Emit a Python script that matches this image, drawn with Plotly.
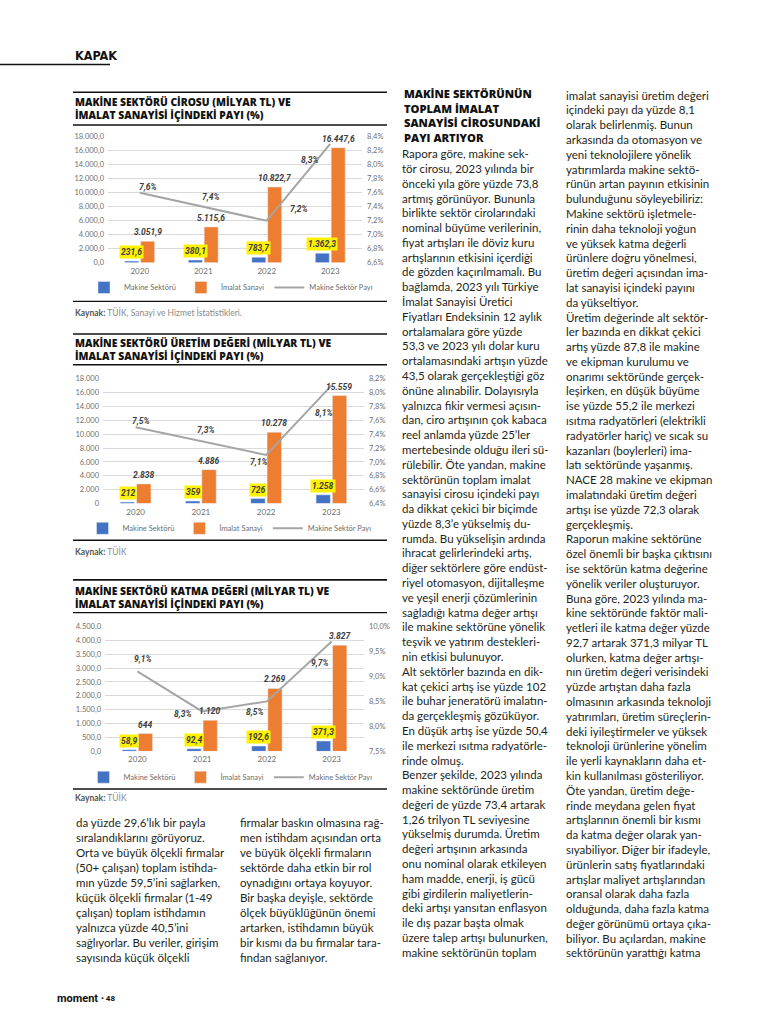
import plotly.graph_objects as go

W, H = 777, 1024

# ---------------- DATA ----------------
years = ['2020', '2021', '2022', '2023']

ciro_makine = [231.6, 380.1, 783.7, 1362.3]
ciro_imalat = [3051.9, 5115.6, 10822.7, 16447.6]
ciro_pay = [7.6, 7.4, 7.2, 8.3]

uretim_makine = [212, 359, 726, 1258]
uretim_imalat = [2838, 4886, 10278, 15559]
uretim_pay = [7.5, 7.3, 7.1, 8.1]

katma_makine = [58.9, 92.4, 192.6, 371.3]
katma_imalat = [644, 1120, 2269, 3827]
katma_pay = [9.1, 8.3, 8.5, 9.7]

series_names = ['Makine Sektörü', 'İmalat Sanayi', 'Makine Sektör Payı']

# ---------------- TEXT ----------------
col2_heading = ['MAKİNE SEKTÖRÜNÜN', 'TOPLAM İMALAT', 'SANAYİSİ CİROSUNDAKİ', 'PAYI ARTIYOR']
col2_body = [
    'Rapora göre, makine sek-', 'tör cirosu, 2023 yılında bir', 'önceki yıla göre yüzde 73,8',
    'artmış görünüyor. Bununla', 'birlikte sektör cirolarındaki', 'nominal büyüme verilerinin,',
    'fiyat artışları ile döviz kuru', 'artışlarının etkisini içerdiği', 'de gözden kaçırılmamalı. Bu',
    'bağlamda, 2023 yılı Türkiye', 'İmalat Sanayisi Üretici', 'Fiyatları Endeksinin 12 aylık',
    'ortalamalara göre yüzde', '53,3 ve 2023 yılı dolar kuru', 'ortalamasındaki artışın yüzde',
    '43,5 olarak gerçekleştiği göz', 'önüne alınabilir. Dolayısıyla', 'yalnızca fikir vermesi açısın-',
    'dan, ciro artışının çok kabaca', 'reel anlamda yüzde 25’ler', 'mertebesinde olduğu ileri sü-',
    'rülebilir. Öte yandan, makine', 'sektörünün toplam imalat', 'sanayisi cirosu içindeki payı',
    'da dikkat çekici bir biçimde', 'yüzde 8,3’e yükselmiş du-', 'rumda. Bu yükselişin ardında',
    'ihracat gelirlerindeki artış,', 'diğer sektörlere göre endüst-', 'riyel otomasyon, dijitalleşme',
    've yeşil enerji çözümlerinin', 'sağladığı katma değer artışı', 'ile makine sektörüne yönelik',
    'teşvik ve yatırım destekleri-', 'nin etkisi bulunuyor.', 'Alt sektörler bazında en dik-',
    'kat çekici artış ise yüzde 102', 'ile buhar jeneratörü imalatın-', 'da gerçekleşmiş gözüküyor.',
    'En düşük artış ise yüzde 50,4', 'ile merkezi ısıtma radyatörle-', 'rinde olmuş.',
    'Benzer şekilde, 2023 yılında', 'makine sektöründe üretim', 'değeri de yüzde 73,4 artarak',
    '1,26 trilyon TL seviyesine', 'yükselmiş durumda. Üretim', 'değeri artışının arkasında',
    'onu nominal olarak etkileyen', 'ham madde, enerji, iş gücü', 'gibi girdilerin maliyetlerin-',
    'deki artışı yansıtan enflasyon', 'ile dış pazar başta olmak', 'üzere talep artışı bulunurken,',
    'makine sektörünün toplam',
]
col3_body = [
    'imalat sanayisi üretim değeri', 'içindeki payı da yüzde 8,1', 'olarak belirlenmiş. Bunun',
    'arkasında da otomasyon ve', 'yeni teknolojilere yönelik', 'yatırımlarda makine sektö-',
    'rünün artan payının etkisinin', 'bulunduğunu söyleyebiliriz:', 'Makine sektörü işletmele-',
    'rinin daha teknoloji yoğun', 've yüksek katma değerli', 'ürünlere doğru yönelmesi,',
    'üretim değeri açısından ima-', 'lat sanayisi içindeki payını', 'da yükseltiyor.',
    'Üretim değerinde alt sektör-', 'ler bazında en dikkat çekici', 'artış yüzde 87,8 ile makine',
    've ekipman kurulumu ve', 'onarımı sektöründe gerçek-', 'leşirken, en düşük büyüme',
    'ise yüzde 55,2 ile merkezi', 'ısıtma radyatörleri (elektrikli', 'radyatörler hariç) ve sıcak su',
    'kazanları (boylerleri) ima-', 'latı sektöründe yaşanmış.', 'NACE 28 makine ve ekipman',
    'imalatındaki üretim değeri', 'artışı ise yüzde 72,3 olarak', 'gerçekleşmiş.',
    'Raporun makine sektörüne', 'özel önemli bir başka çıktısını', 'ise sektörün katma değerine',
    'yönelik veriler oluşturuyor.', 'Buna göre, 2023 yılında ma-', 'kine sektöründe faktör mali-',
    'yetleri ile katma değer yüzde', '92,7 artarak 371,3 milyar TL', 'olurken, katma değer artışı-',
    'nın üretim değeri verisindeki', 'yüzde artıştan daha fazla', 'olmasının arkasında teknoloji',
    'yatırımları, üretim süreçlerin-', 'deki iyileştirmeler ve yüksek', 'teknoloji ürünlerine yönelim',
    'ile yerli kaynakların daha et-', 'kin kullanılması gösteriliyor.', 'Öte yandan, üretim değe-',
    'rinde meydana gelen fiyat', 'artışlarının önemli bir kısmı', 'da katma değer olarak yan-',
    'sıyabiliyor. Diğer bir ifadeyle,', 'ürünlerin satış fiyatlarındaki', 'artışlar maliyet artışlarından',
    'oransal olarak daha fazla', 'olduğunda, daha fazla katma', 'değer görünümü ortaya çıka-',
    'biliyor. Bu açılardan, makine', 'sektörünün yarattığı katma',
]
colA_body = [
    'da yüzde 29,6’lık bir payla', 'sıralandıklarını görüyoruz.', 'Orta ve büyük ölçekli firmalar',
    '(50+ çalışan) toplam istihda-', 'mın yüzde 59,5’ini sağlarken,', 'küçük ölçekli firmalar (1-49',
    'çalışan) toplam istihdamın', 'yalnızca yüzde 40,5’ini', 'sağlıyorlar. Bu veriler, girişim',
    'sayısında küçük ölçekli',
]
colB_body = [
    'firmalar baskın olmasına rağ-', 'men istihdam açısından orta', 've büyük ölçekli firmaların',
    'sektörde daha etkin bir rol', 'oynadığını ortaya koyuyor.', 'Bir başka deyişle, sektörde',
    'ölçek büyüklüğünün önemi', 'artarken, istihdamın büyük', 'bir kısmı da bu firmalar tara-',
    'fından sağlanıyor.',
]

# ---------------- STYLE ----------------
BLUE = '#4472C4'
ORANGE = '#ED7D31'
GRAY = '#A5A5A5'
TXT = '#231F20'
AX = '#6E6E6E'
BODY_FONT = 'Lato'
HEAD_FONT = 'Open Sans'


def X(px):
    return px / W


def Y(py):
    return 1 - py / H


def tr(v, dec):
    s = f'{v:,.{dec}f}'
    return s.replace(',', '#').replace('.', ',').replace('#', '.')


charts = [
    dict(makine=ciro_makine, imalat=ciro_imalat, pay=ciro_pay,
         title=['MAKİNE SEKTÖRÜ CİROSU (MİLYAR TL) VE', 'İMALAT SANAYİSİ İÇİNDEKİ PAYI (%)'],
         rule_top=89, title_y=105.5, rule_mid=122, px_x=[108, 362], px_y=[134, 261],
         legend_y=286, rule_bot=300, kaynak_y=311,
         kaynak='TÜİK, Sanayi ve Hizmet İstatistikleri.',
         lrange=[0, 18000], ldtick=2000, lfmt=',.1f', rrange=[6.6, 8.4], rdtick=0.2,
         mdec=1, idec=1,
         pay_shift=[(8, 6), (8, 10), (32, 12), (-20, -16)]),
    dict(makine=uretim_makine, imalat=uretim_imalat, pay=uretim_pay,
         title=['MAKİNE SEKTÖRÜ ÜRETİM DEĞERİ (MİLYAR TL) VE', 'İMALAT SANAYİSİ İÇİNDEKİ PAYI (%)'],
         rule_top=333, title_y=348.5, rule_mid=364, px_x=[103, 364], px_y=[378, 504],
         legend_y=529, rule_bot=541, kaynak_y=552, kaynak='TÜİK',
         lrange=[0, 18000], ldtick=2000, lfmt=',d', rrange=[6.4, 8.2], rdtick=0.2,
         mdec=0, idec=0,
         pay_shift=[(5, 6), (5, 11), (-7, -7), (-7, -27)]),
    dict(makine=katma_makine, imalat=katma_imalat, pay=katma_pay,
         title=['MAKİNE SEKTÖRÜ KATMA DEĞERİ (MİLYAR TL) VE', 'İMALAT SANAYİSİ İÇİNDEKİ PAYI (%)'],
         rule_top=581, title_y=598.5, rule_mid=614, px_x=[105, 364], px_y=[628, 754],
         legend_y=780, rule_bot=792, kaynak_y=801, kaynak='TÜİK',
         lrange=[0, 4500], ldtick=500, lfmt=',.1f', rrange=[7.5, 10.0], rdtick=0.5,
         mdec=1, idec=0,
         pay_shift=[(6, 12), (-19, -3), (-12, -11), (-12, -22)]),
]

fig = go.Figure()
layout = dict(
    width=W, height=H, margin=dict(l=0, r=0, t=0, b=0),
    paper_bgcolor='white', plot_bgcolor='white',
    separators=',.', barmode='group', bargap=0.5, bargroupgap=0.12,
    font=dict(family=BODY_FONT, color=TXT),
)
annotations = []
shapes = []


def ann(text, x, y, size, color=TXT, family=BODY_FONT, weight='normal', xanchor='left',
        yanchor='middle', style='normal', align='left'):
    annotations.append(dict(text=text, x=X(x), y=Y(y), xref='paper', yref='paper',
                            xanchor=xanchor, yanchor=yanchor, showarrow=False, align=align,
                            font=dict(size=size, color=color, family=family, weight=weight,
                                      style=style)))


def rule(x0, x1, y, w=1.4, color='#111111'):
    shapes.append(dict(type='line', xref='paper', yref='paper', x0=X(x0), x1=X(x1),
                       y0=Y(y), y1=Y(y), line=dict(color=color, width=w)))


LBL = dict(size=8.5, color='#404040', family='Roboto', weight='bold', style='italic')

for i, c in enumerate(charts):
    n = i + 1
    xa = 'x' if n == 1 else f'x{n}'
    ya_l = 'y' if n == 1 else f'y{2 * n - 1}'
    ya_r = f'y{2 * n}'
    leg = 'legend' if n == 1 else f'legend{n}'
    xkey = 'xaxis' if n == 1 else f'xaxis{n}'
    ylkey = 'yaxis' if n == 1 else f'yaxis{2 * n - 1}'
    yrkey = f'yaxis{2 * n}'

    fig.add_trace(go.Bar(x=years, y=c['makine'], name=series_names[0], marker_color=BLUE,
                         xaxis=xa, yaxis=ya_l, legend=leg, hoverinfo='skip'))
    fig.add_trace(go.Bar(x=years, y=c['imalat'], name=series_names[1], marker_color=ORANGE,
                         xaxis=xa, yaxis=ya_l, legend=leg, hoverinfo='skip'))
    fig.add_trace(go.Scatter(x=years, y=c['pay'], name=series_names[2], mode='lines',
                             line=dict(color=GRAY, width=2), xaxis=xa, yaxis=ya_r,
                             legend=leg, hoverinfo='skip'))

    dom_x = [X(c['px_x'][0]), X(c['px_x'][1])]
    dom_y = [Y(c['px_y'][1]), Y(c['px_y'][0])]
    layout[xkey] = dict(domain=dom_x, anchor=ya_l, type='category', categoryorder='array',
                        categoryarray=years, range=[-0.5, len(years) - 0.5], autorange=False,
                        showgrid=False, showline=False, ticks='',
                        tickfont=dict(size=8, color=AX), ticklabelstandoff=2)
    layout[ylkey] = dict(domain=dom_y, anchor=xa, range=c['lrange'], autorange=False,
                         dtick=c['ldtick'], tickformat=c['lfmt'], showgrid=True,
                         gridcolor='#D9D9D9', gridwidth=0.8, zeroline=False, showline=False,
                         ticks='', tickfont=dict(size=7.5, color=AX), ticklabelstandoff=3)
    layout[yrkey] = dict(domain=dom_y, anchor=xa, overlaying=ya_l, side='right',
                         range=c['rrange'], autorange=False, dtick=c['rdtick'],
                         tickformat='.1f', ticksuffix='%', showgrid=False, zeroline=False,
                         showline=False, ticks='', tickfont=dict(size=7.5, color=AX),
                         ticklabelstandoff=4)
    layout[leg] = dict(orientation='h', x=(dom_x[0] + dom_x[1]) / 2 - X(4), xanchor='center',
                       y=Y(c['legend_y']), yanchor='middle', xref='paper', yref='paper',
                       font=dict(size=7.5, color=AX), itemwidth=30, tracegroupgap=0,
                       bgcolor='rgba(0,0,0,0)', traceorder='normal')

    # value labels (x given as category index)
    for k in range(len(years)):
        annotations.append(dict(x=k, y=c['makine'][k], xref=xa, yref=ya_l, xshift=-8, yshift=2,
                                text=tr(c['makine'][k], c['mdec']), showarrow=False,
                                yanchor='bottom', bgcolor='#FFF200', borderpad=1, font=LBL))
        annotations.append(dict(x=k, y=c['imalat'][k], xref=xa, yref=ya_l, xshift=8, yshift=2,
                                text=tr(c['imalat'][k], c['idec']), showarrow=False,
                                yanchor='bottom', font=LBL))
        dx, dy = c['pay_shift'][k]
        annotations.append(dict(x=k, y=c['pay'][k], xref=xa, yref=ya_r, xshift=dx, yshift=dy,
                                text=tr(c['pay'][k], 1) + '%', showarrow=False, font=LBL))

    # frame rules, titles, source
    rule(73, 387, c['rule_top'], 1.6)
    ann('<br>'.join(c['title']), 73, c['title_y'], 10.3, color='#111111', family=HEAD_FONT,
        weight=800)
    rule(73, 387, c['rule_mid'], 1.4)
    rule(73, 387, c['rule_bot'], 1.4)
    ann('<b>Kaynak:</b> <span style="color:#8a8a8a">' + c['kaynak'] + '</span>', 73,
        c['kaynak_y'], 8.5, color='#555555')

# header / footer
ann('KAPAK', 73, 52, 12.5, color='#111111', family='DejaVu Sans Condensed', weight='bold')
rule(0, 110, 61, 1.4)
ann('<b>moment</b>', 55, 1003, 11, color='#111111', family='Roboto')
ann('• 48', 99, 1003, 8, color='#111111', family='Roboto', weight='bold')

# text columns
ann('<br>'.join(col2_heading), 402, 112.5, 11.2, color='#111111', family=HEAD_FONT, weight=800)
LS = 14.92
for j, t in enumerate(col2_body):
    ann(t, 400, 151 + LS * j, 11.5)
for j, t in enumerate(col3_body):
    ann(t, 564, 92 + LS * j, 11.5)
for j, t in enumerate(colA_body):
    ann(t, 74, 826 + 15.1 * j, 11.5)
for j, t in enumerate(colB_body):
    ann(t, 238, 826 + 15.1 * j, 11.5)

layout['annotations'] = annotations
layout['shapes'] = shapes
fig.update_layout(**layout)
fig.write_html('out.html', config={'displayModeBar': False},
               post_script="document.body.style.margin='0';document.body.style.overflow='hidden';")
